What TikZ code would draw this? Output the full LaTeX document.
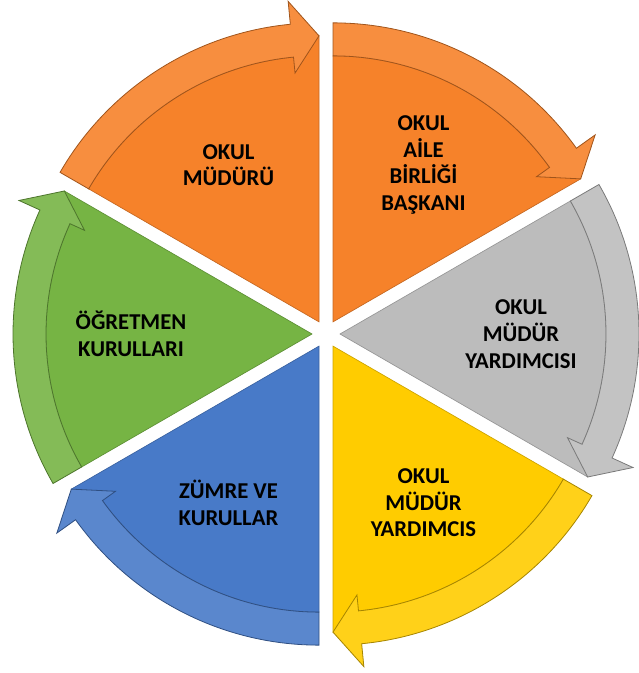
\documentclass[tikz,border=0pt]{standalone}
\usepackage{fontspec}
\setmainfont{Carlito}

\definecolor{turuncu}{RGB}{246,130,42}
\definecolor{gri}{RGB}{188,188,188}
\definecolor{sari}{RGB}{255,204,0}
\definecolor{mavi}{RGB}{72,122,200}
\definecolor{yesil}{RGB}{118,180,68}

\tikzset{
  dilim/.style={fill=#1, draw=#1!80!black, line width=0.5pt},
  okband/.style={fill=#1!90!white, draw=#1!65!black, line width=0.6pt},
  etiket/.style={font=\bfseries\fontsize{17}{20}\selectfont, align=center, text=black}
}

\begin{document}
\begin{tikzpicture}[x=0.75pt,y=0.75pt]
\useasboundingbox (-326,-339) rectangle (312,334);
    \foreach \a/\c/\n/\t in {90/turuncu/mudur/{OKUL\\MÜDÜRÜ},
      30/turuncu/aile/{OKUL\\AİLE\\BİRLİĞİ\\BAŞKANI},
      -30/gri/yard/{OKUL\\MÜDÜR\\YARDIMCISI},
      -90/sari/yardb/{OKUL\\MÜDÜR\\YARDIMCIS},
      -150/mavi/zumre/{ZÜMRE VE\\KURULLAR},
      150/yesil/ogretmen/{ÖĞRETMEN\\KURULLARI}}
 {
 \begin{scope}[shift={(\a+30:14)}]
  \draw[dilim=\c] (0,0) -- (\a+60:266) arc[start angle=\a+60, end angle=\a+5.5, radius=266] -- (\a:286) -- cycle;
  \draw[okband=\c] (\a+60:299) arc[start angle=\a+60, end angle=\a+5.5, radius=299]
     -- (\a+5.5:322) -- (\a:286) -- (\a+5.5:250) -- (\a+5.5:266)
     arc[start angle=\a+5.5, end angle=\a+60, radius=266] -- cycle;
 \end{scope}
 \node[etiket] (\n) at (\a+30:195) {\t};
    }

    \end{tikzpicture}
\end{document}
